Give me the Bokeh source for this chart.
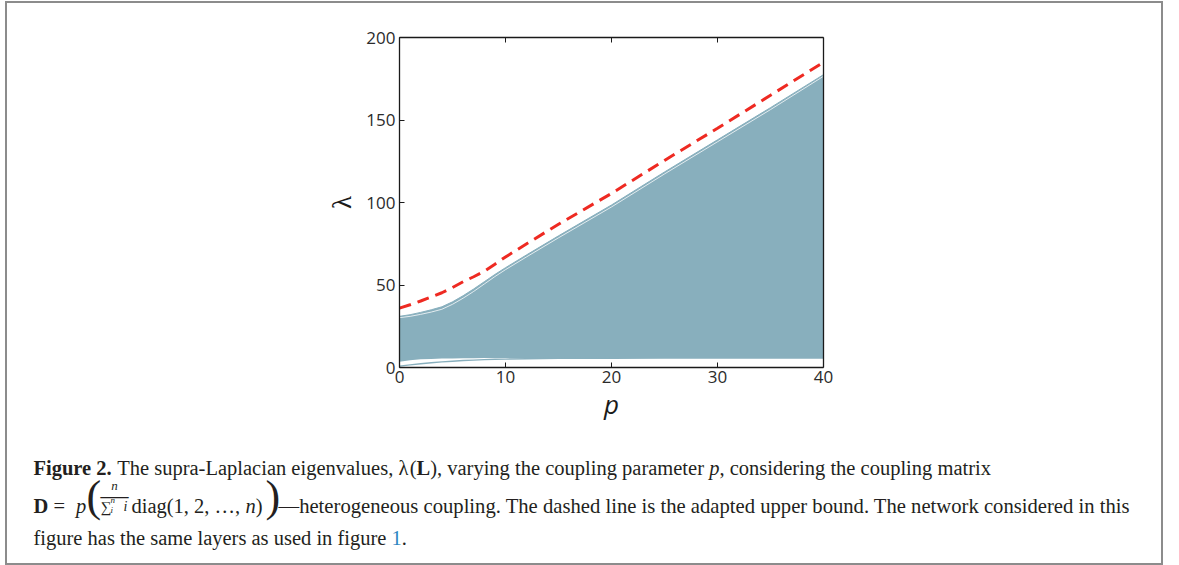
from bokeh.plotting import figure
from bokeh.layouts import column
from bokeh.models import Range1d, LinearAxis, FixedTicker
from bokeh.core.properties import value
from bokeh.embed import file_html
from bokeh.resources import INLINE

# ---------------- data ----------------
p_coupling = [0, 1, 2, 3, 4, 5, 6, 7, 8, 9, 10, 12, 15, 20, 25, 30, 35, 40]
lambda_max = [31, 32, 33.4, 35, 36.8, 39.8, 43.5, 47.6, 52, 56.4, 60.5, 68.3, 79.8, 98.5, 118.5, 138, 157.5, 177.5]
lambda_next = [30.2, 31, 32.2, 33.6, 35.3, 38.3, 42, 46.1, 50.6, 55.1, 59.3, 67.1, 78.6, 97.3, 117.3, 136.8, 156.3, 176.5]
lambda_bulk_low = [3.5, 4.4, 5, 5.2, 5.4, 5.5, 5.6, 5.6, 5.7, 5.7, 5.7, 5.7, 5.7, 5.7, 5.7, 5.7, 5.7, 5.7]
lambda_2 = [0.8, 1.6, 2.3, 2.9, 3.4, 3.8, 4.2, 4.5, 4.8, 5.0, 5.1, 5.3, 5.5, 5.6, 5.7, 5.7, 5.7, 5.7]
upper_bound = [36, 38, 40.3, 42.8, 45.3, 48.5, 52, 55, 58.3, 62.6, 67, 75, 86.8, 105.5, 125.5, 145, 165, 185]
x_ticks = [0, 10, 20, 30, 40]
y_ticks = [0, 50, 100, 150, 200]

# ---------------- layout (page px) ----------------
OX, OY = 7, 3            # inner origin of the bordered panel on the page
W = 1154
H1, H2 = 440, 120
FL, FR, FT, FB = 399.3 - OX, 823.3 - OX, 37.3 - OY, 366.7 - OY   # frame edges in canvas px

BLUE = "#88AFBD"
RED = "#EE2A22"
AX = "#1a1a1a"
TICKFONT = "Open Sans"

p = figure(width=W, height=H1, output_backend="svg", toolbar_location=None,
           x_range=Range1d(0, 40), y_range=Range1d(0, 200),
           min_border_left=int(round(FL)), min_border_right=int(round(W - FR)),
           min_border_top=int(round(FT)), min_border_bottom=int(round(H1 - FB)),
           x_axis_label="p", y_axis_label="λ")
p.frame_align = False
p.grid.visible = False
p.outline_line_color = None

# eigenvalue band
p.varea(x=p_coupling, y1=lambda_bulk_low, y2=lambda_max, fill_color=BLUE)
p.line(p_coupling, lambda_next, line_color="white", line_width=0.9, line_alpha=0.85)
p.line(p_coupling, lambda_max, line_color=BLUE, line_width=1)
p.line(p_coupling, lambda_2, line_color=BLUE, line_width=1.4)
# adapted upper bound
p.line(p_coupling, upper_bound, line_color=RED, line_width=3, line_dash="12 7")

for ax in (p.xaxis[0], p.yaxis[0]):
    ax.axis_line_color = AX
    ax.axis_line_width = 1.3
    ax.major_tick_line_color = AX
    ax.major_tick_in = 5
    ax.major_tick_out = 0
    ax.minor_tick_line_color = None
    ax.major_label_text_font = TICKFONT
    ax.major_label_text_font_size = "17px"
    ax.major_label_text_color = "#2b2b2b"
p.xaxis[0].ticker = FixedTicker(ticks=x_ticks)
p.yaxis[0].ticker = FixedTicker(ticks=y_ticks)
p.xaxis[0].major_label_standoff = 3
p.yaxis[0].major_label_standoff = 4

p.xaxis[0].axis_label_text_font = TICKFONT
p.xaxis[0].axis_label_text_font_style = "italic"
p.xaxis[0].axis_label_text_font_size = "26px"
p.xaxis[0].axis_label_text_color = "#1a1a1a"
p.xaxis[0].axis_label_standoff = 0

p.yaxis[0].axis_label_text_font = "Liberation Serif"
p.yaxis[0].axis_label_text_font_style = "normal"
p.yaxis[0].axis_label_text_font_size = "27px"
p.yaxis[0].axis_label_text_color = "#1a1a1a"
p.yaxis[0].axis_label_standoff = 6

for loc, ticks, tick_color in (("above", x_ticks, AX), ("right", y_ticks, None)):
    frame_ax = LinearAxis(ticker=FixedTicker(ticks=ticks), major_label_text_font_size="1px",
                          major_label_text_color=None, major_label_standoff=0,
                          major_tick_in=5, major_tick_out=0, minor_tick_line_color=None,
                          axis_line_color=AX, axis_line_width=1.3, major_tick_line_color=tick_color)
    p.add_layout(frame_ax, loc)

# ---------------- caption figure (data units = page px) ----------------
cap = figure(width=W, height=H2, output_backend="svg", toolbar_location=None,
             x_range=Range1d(OX, OX + W), y_range=Range1d(H1 + OY + H2, H1 + OY),
             x_axis_type=None, y_axis_type=None,
             min_border=0, min_border_left=0, min_border_right=0,
             min_border_top=0, min_border_bottom=0)
cap.frame_align = False
cap.grid.visible = False
cap.outline_line_color = None

REG = {' ': 250, '(': 333, ')': 333, ',': 250, '-': 333, '.': 250, '=': 564,
       '1': 500, '2': 500, 'L': 611, 'T': 611, 'D': 722, 'F': 556,
       'a': 444, 'b': 500, 'c': 444, 'd': 500, 'e': 444, 'f': 333, 'g': 500, 'h': 500,
       'i': 278, 'j': 278, 'k': 500, 'l': 278, 'm': 778, 'n': 500, 'o': 500, 'p': 500,
       'q': 500, 'r': 333, 's': 389, 't': 278, 'u': 500, 'v': 500, 'w': 722, 'x': 500,
       'y': 500, 'z': 444, '—': 1000, '…': 1000, 'λ': 549}
BOLD = {'F': 611, 'i': 278, 'g': 500, 'u': 556, 'r': 444, 'e': 444, ' ': 250, '2': 500,
        '.': 250, 'L': 667, 'D': 722}
ITAL = {'p': 500, 'n': 500, 'i': 278}

SERIF = "Liberation Serif"
CAP = 20.5
INK = "#231f20"
LINK = "#2e86c1"


def tw(s, style, size):
    tab = BOLD if style == "bold" else ITAL if style == "italic" else REG
    return sum(tab.get(c, REG.get(c, 500)) for c in s) * size / 1000.0


def put(text, x, y, style="normal", size=CAP, color=INK, align="left"):
    cap.text(x=[x], y=[y], text=[text], text_font=value(SERIF),
             text_font_size=value(f"{size}px"), text_font_style=style,
             text_color=color, text_align=align, text_baseline="alphabetic")


def run(segments, x, base_y, size=CAP):
    for text, style, color in segments:
        lead = len(text) - len(text.lstrip(" "))
        x += tw(" " * lead, style, size)
        body = text.strip(" ")
        if body:
            put(body, x, base_y, style, size, color)
        x += tw(text.lstrip(" "), style, size)
    return x


run([("Figure 2.", "bold", INK),
     (" The supra-Laplacian eigenvalues, ", "normal", INK),
     ("λ", "normal", INK), ("(", "normal", INK), ("L", "bold", INK),
     ("), varying the coupling parameter ", "normal", INK),
     ("p", "italic", INK),
     (", considering the coupling matrix", "normal", INK)], 33, 467)

# line 2 with the coupling-matrix formula
put("D", 33, 505, "bold")
put("=", 53, 505)
put("p", 75.5, 505, "italic")
put("(", 86, 496, size=44)
put("n", 114, 485, "italic", size=13, align="center")
put("—", 100, 494, size=28)
put("∑", 100, 506, size=15)
put("n", 110, 499, "italic", size=9)
put("i", 110, 509.5, "italic", size=9)
put("i", 123, 506, "italic", size=14)
xe = run([("diag(1, 2, …, ", "normal", INK), ("n", "italic", INK), (")", "normal", INK)], 131, 505)
put(")", xe + 3, 496, size=44)
run([("—heterogeneous coupling. The dashed line is the adapted upper bound. The network considered in this",
      "normal", INK)], 278, 505, size=20.65)

run([("figure has the same layers as used in figure ", "normal", INK),
     ("1", "normal", LINK), (".", "normal", INK)], 33, 537)

layout = column(p, cap, spacing=0,
                styles={"border": "2px solid #8c8c8c", "margin-left": "5px", "margin-top": "1px"})

open("out.html", "w").write(file_html(layout, INLINE))
